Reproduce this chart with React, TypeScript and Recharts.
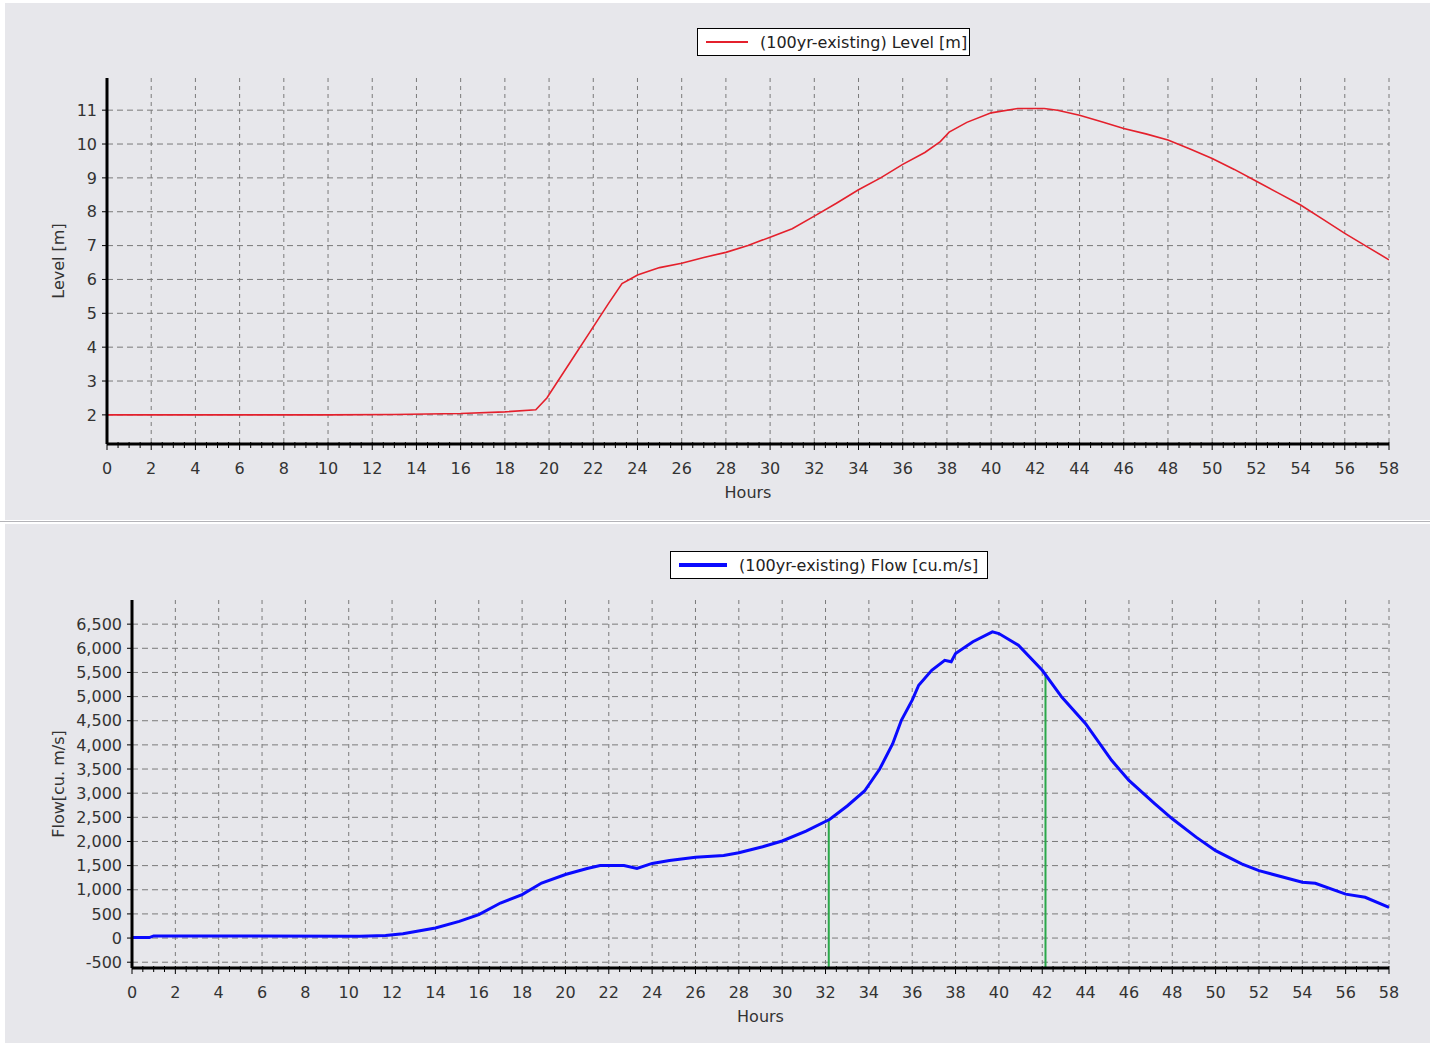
import React from 'react';
import { LineChart, Line, XAxis, YAxis, CartesianGrid, ReferenceLine, Label } from 'recharts';

// ---- Data ----
const hourTicks = [0, 2, 4, 6, 8, 10, 12, 14, 16, 18, 20, 22, 24, 26, 28, 30, 32, 34, 36, 38, 40, 42, 44, 46, 48, 50, 52, 54, 56, 58];
const levelTicks = [2, 3, 4, 5, 6, 7, 8, 9, 10, 11];
const flowTicks = [-500, 0, 500, 1000, 1500, 2000, 2500, 3000, 3500, 4000, 4500, 5000, 5500, 6000, 6500];

const levelHours = [0, 10, 13, 16, 18, 19.4, 19.9, 21, 22, 22.7, 23.3, 23.7, 24, 25, 26, 27, 28, 29, 30, 31, 32, 33, 34, 35, 36, 37, 37.7, 38.1, 38.9, 40, 41.2, 42.4, 43, 44, 45, 46, 47, 48, 49, 50, 51, 52, 53, 54, 55, 56, 57, 58];
const levelValues = [2.0, 2.0, 2.01, 2.04, 2.09, 2.15, 2.5, 3.6, 4.6, 5.3, 5.88, 6.02, 6.13, 6.35, 6.48, 6.65, 6.8, 7.0, 7.25, 7.5, 7.87, 8.25, 8.65, 9.0, 9.4, 9.75, 10.07, 10.35, 10.64, 10.92, 11.05, 11.05, 11.0, 10.85, 10.66, 10.46, 10.3, 10.12, 9.85, 9.57, 9.25, 8.9, 8.55, 8.2, 7.78, 7.36, 6.97, 6.58];

const flowHours = [0, 0.8, 1.0, 5, 10.5, 11.7, 12.5, 14, 15.1, 16, 17, 18, 18.9, 20, 21, 21.6, 22.7, 23.3, 24, 24.8, 26, 27.3, 28, 29.1, 30, 31.1, 32.2, 33, 33.8, 34.5, 35.1, 35.5, 36, 36.3, 36.9, 37.5, 37.8, 38, 38.8, 39.7, 40, 40.9, 42, 42.9, 44, 45.2, 46, 47.2, 48, 49.1, 50, 51.2, 52, 54, 54.6, 56, 56.9, 58];
const flowValues = [10, 10, 45, 45, 40, 55, 90, 210, 345, 485, 725, 900, 1140, 1315, 1440, 1500, 1500, 1440, 1545, 1605, 1675, 1710, 1765, 1890, 2010, 2215, 2460, 2735, 3045, 3500, 4025, 4510, 4925, 5235, 5545, 5750, 5720, 5890, 6135, 6340, 6305, 6065, 5545, 4990, 4440, 3680, 3265, 2780, 2470, 2090, 1810, 1535, 1395, 1155, 1135, 910, 845, 635];

const markerHours = [32.15, 42.15];
const markerFlows = [2470, 5480];

const levelDomain = [1.14, 11.95];
const flowDomain = [-620, 7000];

const levelData = levelHours.map((h, i) => ({ hour: h, level: levelValues[i] }));
const flowData = flowHours.map((h, i) => ({ hour: h, flow: flowValues[i] }));

const minorTicks: number[] = [];
for (let t = 0; t <= 58; t += 0.5) minorTicks.push(t);

const FONT = '"DejaVu Sans", Tahoma, sans-serif';
const TXT = '#333';
const PANEL_BG = '#e7e7eb';

const HourTick = (props: any) => {
  const { x, y, payload } = props;
  const v = payload.value;
  const major = Math.abs(v % 2) < 1e-9;
  return (
    <g>
      <line x1={x} x2={x} y1={y - 2} y2={y + (major ? 6 : 4)} stroke="#000" strokeWidth={1} />
      {major && (
        <text x={x} y={y + 24} dy="0.35em" textAnchor="middle" fontSize={16} fontFamily={FONT} fill={TXT}>
          {v}
        </text>
      )}
    </g>
  );
};

const fmtFlow = (v: number) => v.toLocaleString('en-US');

// grid rows only at the labelled ticks (derived from the axis domain and plot offset)
const hGen = (ticks: number[], domain: number[]) => (props: any) => {
  const yAxis = props && props.yAxis;
  if (yAxis && typeof yAxis.scale === 'function') {
    return ticks.map((t) => yAxis.scale(t));
  }
  if (yAxis && yAxis.scale && typeof yAxis.scale.map === 'function') {
    return ticks.map((t) => yAxis.scale.map(t));
  }
  const off = props && props.offset;
  if (off && typeof off.top === 'number' && typeof off.height === 'number') {
    const [lo, hi] = domain;
    return ticks.map((t) => off.top + (off.height * (hi - t)) / (hi - lo));
  }
  return [];
};

const LegendBox = ({ left, top, width, color, lineW, lineLen, text }: any) => (
  <div
    style={{
      position: 'absolute', left, top, width, height: 28, boxSizing: 'border-box',
      background: '#fff', border: '1.5px solid #000', display: 'flex', alignItems: 'center',
      fontFamily: FONT, fontSize: 16, color: '#222', whiteSpace: 'nowrap',
    }}
  >
    <div style={{ width: lineLen, height: lineW, background: color, marginLeft: 8, marginRight: 12 }} />
    <span>{text}</span>
  </div>
);

export default function App() {
  return (
    <div style={{ position: 'absolute', left: 0, top: 0, width: 1430, height: 1046, background: '#fff', overflow: 'hidden' }}>
      {/* Top panel */}
      <div style={{ position: 'absolute', left: 5, top: 3, width: 1425, height: 517, background: PANEL_BG }}>
        <LineChart width={1425} height={517} data={levelData} margin={{ top: 75, right: 41, bottom: 20, left: 0 }}>
          <XAxis xAxisId="g" type="number" dataKey="hour" domain={[0, 58]} ticks={hourTicks} hide />
          <CartesianGrid xAxisId="g" horizontal={false} stroke="#7a7a7a" strokeDasharray="4 4" />
          <CartesianGrid xAxisId="g" vertical={false} stroke="#7a7a7a" strokeDasharray="6 4" horizontalCoordinatesGenerator={hGen(levelTicks, levelDomain)} />
          <XAxis
            type="number" dataKey="hour" domain={[0, 58]} ticks={minorTicks} interval={0}
            tick={<HourTick />} tickLine={false} tickSize={0} tickMargin={0} height={56}
            axisLine={{ stroke: '#000', strokeWidth: 3 }} allowDataOverflow
          >
            <Label value="Hours" position="insideBottom" offset={2} fontSize={16} fontFamily={FONT} fill={TXT} />
          </XAxis>
          <YAxis
            type="number" domain={levelDomain} ticks={levelTicks} interval={0} width={102} allowDataOverflow
            axisLine={{ stroke: '#000', strokeWidth: 3 }} tickLine={{ stroke: '#000' }} tickSize={5} tickMargin={5}
            tick={{ fontSize: 16, fontFamily: FONT, fill: TXT }}
          >
            <Label value="Level [m]" angle={-90} position="center" dx={2} fontSize={16} fontFamily={FONT} fill={TXT} />
          </YAxis>
          <Line type="linear" dataKey="level" stroke="#e4202c" strokeWidth={1.6} dot={false} isAnimationActive={false} />
        </LineChart>
        <LegendBox left={692} top={25} width={273} color="#e4202c" lineW={2} lineLen={42} text="(100yr-existing) Level [m]" />
      </div>

      {/* separator */}
      <div style={{ position: 'absolute', left: 0, top: 521, width: 1430, height: 1, background: '#b4b4b8' }} />

      {/* Bottom panel */}
      <div style={{ position: 'absolute', left: 5, top: 524, width: 1425, height: 519, background: PANEL_BG }}>
        <LineChart width={1425} height={519} data={flowData} margin={{ top: 76, right: 41, bottom: 19, left: 0 }}>
          <XAxis xAxisId="g" type="number" dataKey="hour" domain={[0, 58]} ticks={hourTicks} hide />
          <CartesianGrid xAxisId="g" horizontal={false} stroke="#7a7a7a" strokeDasharray="4 4" />
          <CartesianGrid xAxisId="g" vertical={false} stroke="#7a7a7a" strokeDasharray="6 4" horizontalCoordinatesGenerator={hGen(flowTicks, flowDomain)} />
          <XAxis
            type="number" dataKey="hour" domain={[0, 58]} ticks={minorTicks} interval={0}
            tick={<HourTick />} tickLine={false} tickSize={0} tickMargin={0} height={56}
            axisLine={{ stroke: '#000', strokeWidth: 3 }} allowDataOverflow
          >
            <Label value="Hours" position="insideBottom" offset={2} fontSize={16} fontFamily={FONT} fill={TXT} />
          </XAxis>
          <YAxis
            type="number" domain={flowDomain} ticks={flowTicks} interval={0} width={127} allowDataOverflow
            axisLine={{ stroke: '#000', strokeWidth: 3 }} tickLine={{ stroke: '#000' }} tickSize={5} tickMargin={5}
            tick={{ fontSize: 16, fontFamily: FONT, fill: TXT }} tickFormatter={fmtFlow}
          >
            <Label value="Flow[cu. m/s]" angle={-90} position="center" dx={-10} fontSize={16} fontFamily={FONT} fill={TXT} />
          </YAxis>
          {markerHours.map((h, i) => (
            <ReferenceLine
              key={i}
              segment={[{ x: h, y: flowDomain[0] }, { x: h, y: markerFlows[i] }]}
              stroke="#2aa84a" strokeWidth={2}
            />
          ))}
          <Line type="linear" dataKey="flow" stroke="#0a0aff" strokeWidth={3} dot={false} isAnimationActive={false} />
        </LineChart>
        <LegendBox left={665} top={27} width={318} color="#0a0aff" lineW={4} lineLen={48} text="(100yr-existing) Flow [cu.m/s]" />
      </div>
    </div>
  );
}
